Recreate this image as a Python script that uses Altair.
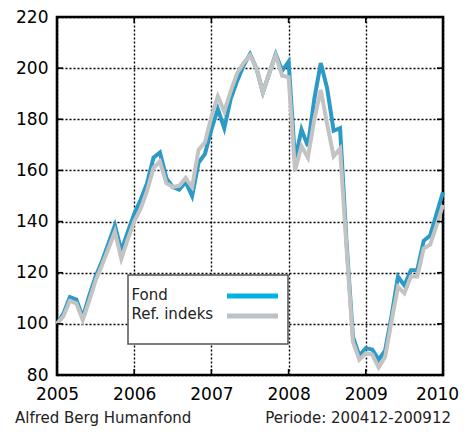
import altair as alt
import pandas as pd

years = ["2005", "2006", "2007", "2008", "2009", "2010"]
series = ["Fond", "Ref. indeks"]
fond = [100, 104, 110.5, 109.5, 102.5, 111, 118.5, 124.5, 131.5, 138.5, 128.5, 136,
        143, 148.5, 155, 165, 167, 157, 153.5, 152.5, 155.5, 150, 163, 166.5,
        176, 184, 176.5, 188, 195, 201, 205.5, 200, 190.5, 198, 205.5, 199,
        202.5, 164, 176, 169.5, 188, 202, 192, 175.5, 176.5, 132, 95, 87.5,
        90.5, 90, 86, 89.5, 103, 118.5, 115, 121, 121, 132.5, 134.5, 143, 151.5]
ref = [100, 103, 109, 108, 101.5, 109, 117, 123, 129.5, 136, 125.5, 133,
       140, 145, 152, 161, 163.5, 155, 153.5, 154, 157, 153.5, 168, 171,
       181, 189, 183, 191, 198, 202, 205, 200, 190.5, 198, 205, 197,
       196.5, 160, 169.5, 165, 180, 191.5, 178, 165.5, 168.5, 130, 93, 86,
       88.5, 88, 83, 87, 101, 114.5, 112, 118.5, 118.5, 129.5, 131, 138.5, 146.5]
y_ticks = [80, 100, 120, 140, 160, 180, 200, 220]
x_ticks = [0, 12, 24, 36, 48, 60]
footer_left = "Alfred Berg Humanfond"
footer_right = "Periode: 200412-200912"

BLUE = "#2B9AC6"
GRAY = "#C3C3C3"
LEG_BLUE = "#00B2E3"
LEG_GRAY = "#BAC2C8"
FONT = "DejaVu Sans"
W, H = 386, 358

months = list(range(len(fond)))
df_f = pd.DataFrame({"m": months, "v": fond})
df_r = pd.DataFrame({"m": months, "v": ref})

xs = alt.Scale(domain=[0, 60], nice=False, zero=False)
ys = alt.Scale(domain=[80, 220], nice=False, zero=False)

label_expr = "[" + ",".join(f"'{y}'" for y in years) + "][round(datum.value/12)]"

x_axis = alt.Axis(values=x_ticks, labelExpr=label_expr, grid=True, gridDash=[2, 2],
                  gridColor="black", gridWidth=1.4, gridOpacity=1, ticks=False, domain=False,
                  labelFontSize=17, labelFont=FONT, labelColor="black", labelPadding=11,
                  labelOffset={"condition": {"test": "datum.value == 60", "value": -6}, "value": 0},
                  title=None, labelFlush=False, labelOverlap=False)
y_axis = alt.Axis(values=y_ticks, grid=True, gridDash=[2, 2], gridColor="black",
                  gridWidth=1.4, gridOpacity=1, ticks=False, domain=False,
                  labelFontSize=17, labelFont=FONT, labelColor="black", labelPadding=9,
                  title=None, labelFlush=False, labelOverlap=False)

fond_line = alt.Chart(df_f).mark_line(color=BLUE, strokeWidth=4).encode(
    x=alt.X("m:Q", scale=xs, axis=x_axis),
    y=alt.Y("v:Q", scale=ys, axis=y_axis),
)
ref_line = alt.Chart(df_r).mark_line(color=GRAY, strokeWidth=4).encode(
    x=alt.X("m:Q", scale=xs),
    y=alt.Y("v:Q", scale=ys),
)

ydf = pd.DataFrame({"v": y_ticks[1:-1]})
xdf = pd.DataFrame({"m": x_ticks[1:-1]})
tk = dict(color="black", strokeWidth=1.6)
left_ticks = alt.Chart(ydf).mark_rule(**tk).encode(
    y=alt.Y("v:Q", scale=ys), x=alt.value(0), x2=alt.value(6))
right_ticks = alt.Chart(ydf).mark_rule(**tk).encode(
    y=alt.Y("v:Q", scale=ys), x=alt.value(W - 6), x2=alt.value(W))
top_ticks = alt.Chart(xdf).mark_rule(**tk).encode(
    x=alt.X("m:Q", scale=xs), y=alt.value(0), y2=alt.value(6))
bottom_ticks = alt.Chart(xdf).mark_rule(**tk).encode(
    x=alt.X("m:Q", scale=xs), y=alt.value(H - 6), y2=alt.value(H))

one = pd.DataFrame({"a": [0]})
leg_box = alt.Chart(one).mark_rect(fill="white", stroke="#555555", strokeWidth=1.5).encode(
    x=alt.value(71), x2=alt.value(231), y=alt.value(258), y2=alt.value(327))
leg_t1 = alt.Chart(pd.DataFrame({"label": [series[0]]})).mark_text(
    align="left", baseline="alphabetic", fontSize=15, font=FONT, color="#222222").encode(
    x=alt.value(74.5), y=alt.value(283), text="label:N")
leg_t2 = alt.Chart(pd.DataFrame({"label": [series[1]]})).mark_text(
    align="left", baseline="alphabetic", fontSize=15, font=FONT, color="#222222").encode(
    x=alt.value(74.5), y=alt.value(301.5), text="label:N")
leg_l1 = alt.Chart(one).mark_rule(color=LEG_BLUE, strokeWidth=5).encode(
    x=alt.value(170), x2=alt.value(221), y=alt.value(279))
leg_l2 = alt.Chart(one).mark_rule(color=LEG_GRAY, strokeWidth=5).encode(
    x=alt.value(170), x2=alt.value(221), y=alt.value(299))

foot1 = alt.Chart(pd.DataFrame({"label": [footer_left]})).mark_text(
    align="left", baseline="alphabetic", fontSize=15, font=FONT, color="#222222").encode(
    x=alt.value(-42), y=alt.value(406), text="label:N")
foot2 = alt.Chart(pd.DataFrame({"label": [footer_right]})).mark_text(
    align="right", baseline="alphabetic", fontSize=15, font=FONT, color="#222222").encode(
    x=alt.value(394), y=alt.value(406), text="label:N")

chart = alt.layer(
    fond_line, ref_line, left_ticks, right_ticks, top_ticks, bottom_ticks,
    leg_box, leg_t1, leg_t2, leg_l1, leg_l2, foot1, foot2,
).properties(
    width=W, height=H,
    autosize=alt.AutoSizeParams(type="none"),
    padding={"left": 49, "top": 9, "right": 16, "bottom": 51},
    background="white",
).configure_view(stroke="black", strokeWidth=2.6)

chart.save("out.html", embed_options={"renderer": "svg", "actions": False})
